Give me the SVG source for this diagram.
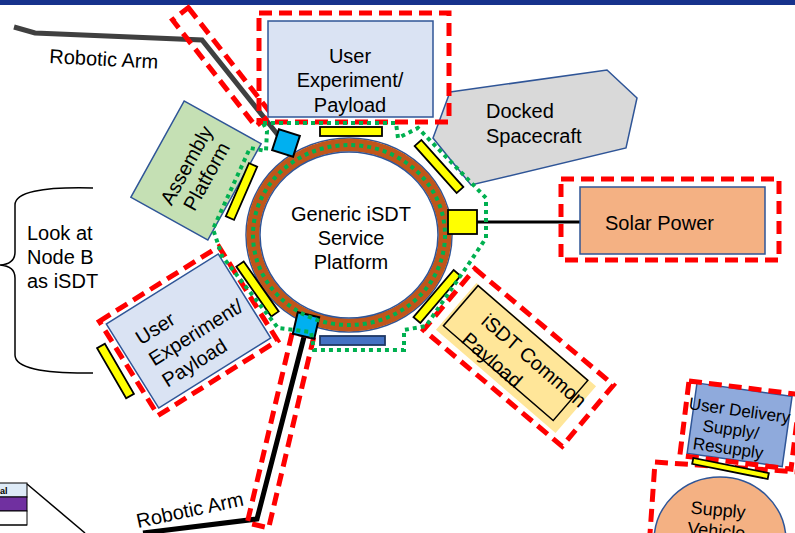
<svg xmlns="http://www.w3.org/2000/svg" width="795" height="533" viewBox="0 0 795 533">
  <style>
    text { font-family: "Liberation Sans", Arial, sans-serif; font-size: 20px; fill: #000; }
    .box { stroke: #2f5597; stroke-width: 1.5; }
    .red { fill: none; stroke: #ff0000; stroke-width: 5; stroke-dasharray: 13 7; }
    .grn { fill: none; stroke: #00b050; stroke-width: 4; stroke-dasharray: 4 4; }
    .port { fill: #ffff00; stroke: #000; stroke-width: 1.8; }
    .sq { fill: #00b0f0; stroke: #000; stroke-width: 2; }
    .arm { fill: none; stroke-linejoin: miter; stroke-width: 5; }
  </style>

  <!-- header band -->
  <rect x="0" y="0" width="795" height="5" fill="#17328c"/>

  <!-- table fragment, lower left -->
  <g id="table">
    <rect x="-1" y="483" width="28" height="14" fill="#deebf7" stroke="#000" stroke-width="1"/>
    <rect x="-1" y="497" width="28" height="14" fill="#7030a0" stroke="#000" stroke-width="1"/>
    <rect x="-1" y="511" width="28" height="14" fill="#fff" stroke="#000" stroke-width="1"/>
    <line x1="-1" y1="525" x2="27" y2="525" stroke="#000" stroke-width="1"/>
    <text x="0" y="494" style="font-size:9px;font-weight:bold">al</text>
    <line x1="27" y1="484" x2="85" y2="533" stroke="#000" stroke-width="1.5"/>
  </g>

  <!-- brace note -->
  <g id="note">
    <path d="M93,188 Q15,186 15,205 L15,252 Q15,264 0,265 Q15,266 15,278 L15,355 Q15,374 93,373" fill="none" stroke="#000" stroke-width="1.5"/>
    <text x="27" y="240">Look at</text>
    <text x="27" y="264">Node B</text>
    <text x="27" y="288">as iSDT</text>
  </g>

  <!-- upper robotic arm -->
  <g id="arm-top">
    <polyline class="arm" stroke="#404040" points="14,27 35,33 202,40 282,140"/>
    <rect class="red" x="-67.5" y="-10" width="135" height="20" transform="translate(222,67) rotate(52)"/>
    <text x="49" y="63" transform="rotate(3 49 63)">Robotic Arm</text>
  </g>

  <!-- docked spacecraft -->
  <g id="docked">
    <polygon class="box" fill="#d9d9d9" points="450,92 607,70 637,98 626,148 471,185 433,138"/>
    <text x="486" y="118">Docked</text>
    <text x="486" y="143">Spacecraft</text>
  </g>

  <!-- top payload -->
  <g id="payload-top">
    <rect class="box" fill="#dae3f3" x="268" y="21" width="165" height="96"/>
    <rect class="red" x="259" y="13" width="190" height="109"/>
    <text x="350" y="63" text-anchor="middle">User</text>
    <text x="350" y="87" text-anchor="middle">Experiment/</text>
    <text x="350" y="112" text-anchor="middle">Payload</text>
  </g>

  <!-- assembly platform -->
  <g id="assembly" transform="translate(196,170.5)">
    <rect class="box" fill="#c5e0b4" x="-44" y="-55" width="88" height="110" transform="rotate(29)"/>
    <g transform="rotate(-61)">
      <text x="0" y="-4" text-anchor="middle">Assembly</text>
      <text x="0" y="19" text-anchor="middle">Platform</text>
    </g>
  </g>

  <!-- lower-left payload -->
  <g id="payload-sw" transform="translate(188.5,331) rotate(-32)">
    <rect class="box" fill="#dae3f3" x="-66" y="-49.5" width="132" height="99"/>
    <rect class="red" x="-70.5" y="-55.5" width="141" height="111"/>
    <text x="-48" y="-13">User</text>
    <text x="-48" y="12">Experiment/</text>
    <text x="-48" y="37">Payload</text>
  </g>
  <rect id="port-sw-outer" class="port" x="-29" y="-4.5" width="58" height="9" transform="translate(115.5,371) rotate(59.9)"/>

  <!-- solar power -->
  <g id="solar">
    <line x1="477" y1="222" x2="580" y2="222" stroke="#000" stroke-width="3"/>
    <rect class="box" fill="#f4b183" x="580" y="187" width="185" height="67"/>
    <rect class="red" x="561" y="179" width="218" height="81"/>
    <text x="605" y="230">Solar Power</text>
  </g>

  <!-- common payload -->
  <g id="common" transform="translate(516,358) rotate(40.8)">
    <rect fill="#ffe699" x="-79" y="-31" width="158" height="62"/>
    <rect fill="none" stroke="#000" stroke-width="1.5" x="-76" y="-30" width="145" height="53"/>
    <text x="-50" y="-3">iSDT Common</text>
    <text x="-53" y="24">Payload</text>
  </g>
  <rect class="red" x="-90.5" y="-40" width="181" height="80" transform="translate(518.5,357.5) rotate(40)"/>

  <!-- lower robotic arm -->
  <g id="arm-bottom">
    <polyline class="arm" stroke="#000" points="143,533 257,519 304,337"/>
    <rect class="red" x="-98" y="-11" width="196" height="22" transform="translate(280.5,430) rotate(103.3)"/>
    <text x="138" y="528" transform="rotate(-12 138 528)">Robotic Arm</text>
  </g>

  <!-- delivery and supply vehicle -->
  <g id="delivery" transform="translate(697,383) rotate(8)">
    <rect class="box" fill="#8faadc" x="0" y="0" width="96" height="71"/>
    <text x="46" y="27" text-anchor="middle" style="font-size:17px">User Delivery</text>
    <text x="40" y="47" text-anchor="middle" style="font-size:17px">Supply/</text>
    <text x="40" y="66" text-anchor="middle" style="font-size:17px">Resupply</text>
  </g>
  <g id="vehicle">
    <ellipse class="box" fill="#f4b183" cx="720" cy="541" rx="66" ry="64"/>
    <g transform="rotate(5 718 512)">
      <text x="718" y="516" text-anchor="middle" style="font-size:18px">Supply</text>
      <text x="718" y="537" text-anchor="middle" style="font-size:18px">Vehicle</text>
    </g>
    <rect class="red" x="0" y="0" width="150" height="100" transform="translate(655,462) rotate(4)"/>
  </g>
  <rect class="red" x="0" y="0" width="112" height="75" transform="translate(689,381) rotate(7)"/>
  <rect id="port-delivery" class="port" x="-38.5" y="-3" width="77" height="6" transform="translate(730.5,468.5) rotate(11.3)"/>

  <!-- service platform ring -->
  <g id="platform">
    <ellipse cx="349" cy="235" rx="103" ry="97" fill="#fff" stroke="#2f5597" stroke-width="1.5"/>
    <ellipse cx="349" cy="235" rx="96" ry="90" fill="none" stroke="#c0561a" stroke-width="13"/>
    <ellipse cx="349" cy="235" rx="89" ry="83" fill="#fff" stroke="#2f5597" stroke-width="1.5"/>
    <text x="351" y="221" text-anchor="middle">Generic iSDT</text>
    <text x="351" y="245" text-anchor="middle">Service</text>
    <text x="351" y="269" text-anchor="middle">Platform</text>
  </g>

  <!-- ports on the ring -->
  <g id="ports">
    <rect class="port" x="320" y="127" width="62" height="9"/>
    <rect class="port" x="-31.5" y="-4.5" width="63" height="9" transform="translate(439,166.5) rotate(48.2)"/>
    <rect class="port" x="448" y="210" width="29" height="24"/>
    <rect class="port" x="-31" y="-4.5" width="62" height="9" transform="translate(437,296.5) rotate(-49.6)"/>
    <rect class="port" x="-30.5" y="-4.5" width="61" height="9" transform="translate(257.5,289) rotate(55)"/>
    <rect class="port" x="-29" y="-4.5" width="58" height="9" transform="translate(241.5,191.5) rotate(-66.5)"/>
    <rect x="320" y="336" width="65" height="9" fill="#4472c4" stroke="#1f3864" stroke-width="1.8"/>
    <rect class="sq" x="-11" y="-11" width="22" height="22" transform="translate(286,143) rotate(18)"/>
    <rect class="sq" x="-11" y="-11" width="22" height="22" transform="translate(306,325.5) rotate(13)"/>
  </g>

  <!-- dotted service boundary -->
  <g id="boundary">
    <ellipse class="grn" cx="349" cy="235" rx="96" ry="90"/>
    <polygon class="grn" points="263,123 396,123 398,138 418,128 486,198 486,238 470,262 426,326 404,330 404,350 314,350 311,332 278,328 222,256 213,229 250,148 266,151 267,131"/>
  </g>
</svg>
